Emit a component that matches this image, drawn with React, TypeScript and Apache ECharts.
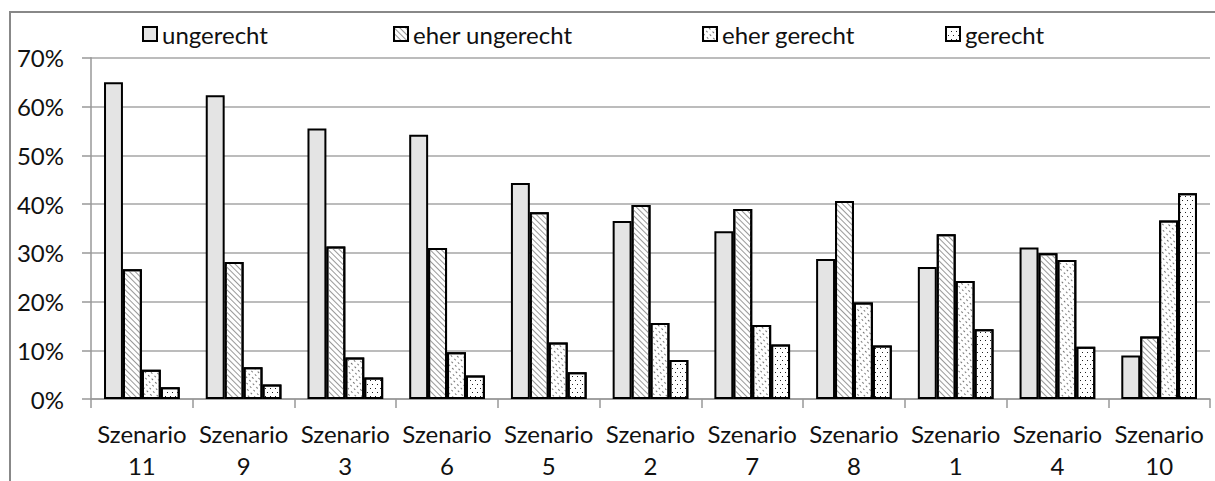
import React, { useEffect, useRef } from "react";
import * as echarts from "echarts";

const categories = [
  "Szenario\n11", "Szenario\n9", "Szenario\n3", "Szenario\n6", "Szenario\n5",
  "Szenario\n2", "Szenario\n7", "Szenario\n8", "Szenario\n1", "Szenario\n4", "Szenario\n10",
];
const ungerecht = [0.65, 0.623, 0.555, 0.542, 0.443, 0.365, 0.344, 0.287, 0.271, 0.311, 0.089];
const eherUngerecht = [0.266, 0.281, 0.313, 0.31, 0.383, 0.398, 0.39, 0.406, 0.338, 0.299, 0.128];
const eherGerecht = [0.06, 0.065, 0.085, 0.096, 0.116, 0.156, 0.152, 0.198, 0.242, 0.285, 0.366];
const gerecht = [0.024, 0.03, 0.044, 0.048, 0.055, 0.08, 0.112, 0.11, 0.143, 0.107, 0.422];
const seriesNames = ["ungerecht", "eher ungerecht", "eher gerecht", "gerecht"];
const yTicks = [0, 0.1, 0.2, 0.3, 0.4, 0.5, 0.6, 0.7];

const FONT = "Lato";
const TEXT = "#111";

export default function App() {
  const ref = useRef<HTMLDivElement>(null);
  useEffect(() => {
    if (!ref.current) return;
    const chart = echarts.init(ref.current, null, { renderer: "svg" });
    const styles = [
      { color: "#e4e4e4", borderColor: "#000", borderWidth: 2 },
      {
        color: "#fff", borderColor: "#000", borderWidth: 2,
        decal: { symbol: "rect", symbolSize: 1, dashArrayX: [1, 0], dashArrayY: [1, 2.5], rotation: Math.PI / 4, color: "#999" },
      },
      {
        color: "#fff", borderColor: "#000", borderWidth: 2,
        decal: { symbol: "rect", symbolSize: 1, dashArrayX: [2, 3], dashArrayY: [1, 3], rotation: Math.PI / 4, color: "#777" },
      },
      {
        color: "#fff", borderColor: "#000", borderWidth: 2,
        decal: { symbol: "rect", symbolSize: 1, dashArrayX: [[1, 4], [0, 2, 1, 2]], dashArrayY: [1, 3], rotation: 0, color: "#222" },
      },
    ];
    const data = [ungerecht, eherUngerecht, eherGerecht, gerecht];
    const legendLefts = [137, 388, 697, 940];
    chart.setOption({
      animation: false,
      textStyle: { fontFamily: FONT },
      legend: seriesNames.map((n, i) => ({
        data: [{ name: n, icon: "rect" }],
        left: legendLefts[i],
        top: 17,
        itemWidth: 14,
        itemHeight: 14,
        itemGap: 6,
        textStyle: { fontFamily: FONT, fontSize: 24, color: TEXT },
      })),
      grid: { left: 91, right: 5, top: 57.8, bottom: 80.5, containLabel: false },
      xAxis: {
        type: "category",
        data: categories,
        axisLine: { lineStyle: { color: "#999", width: 1.5 } },
        axisTick: { show: true, length: 9, lineStyle: { color: "#999", width: 1.5 } },
        axisLabel: { fontFamily: FONT, fontSize: 24, color: TEXT, lineHeight: 32, margin: 18, interval: 0 },
      },
      yAxis: {
        type: "value",
        min: 0,
        max: yTicks[yTicks.length - 1],
        interval: 0.1,
        axisLine: { show: true, lineStyle: { color: "#999", width: 1.5 } },
        axisTick: { show: true, length: 9, lineStyle: { color: "#999", width: 1.5 } },
        splitLine: { lineStyle: { color: "#a6a6a6", width: 1.5 } },
        axisLabel: {
          fontFamily: FONT, fontSize: 24, color: TEXT, margin: 27,
          formatter: (v: number) => Math.round(v * 100) + "%",
        },
      },
      graphic: [
        {
          type: "rect",
          shape: { x: 10, y: 12, width: 1400, height: 700 },
          style: { fill: "none", stroke: "#888", lineWidth: 2 },
          silent: true,
        },
      ],
      series: seriesNames.map((n, i) => ({
        name: n,
        type: "bar",
        data: data[i],
        barGap: "0%",
        barCategoryGap: "25.6%",
        itemStyle: styles[i],
      })),
    });
    return () => chart.dispose();
  }, []);
  return (
    <div
      ref={ref}
      style={{ position: "fixed", left: 0, top: 0, width: 1215, height: 481, background: "#fff" }}
    />
  );
}
